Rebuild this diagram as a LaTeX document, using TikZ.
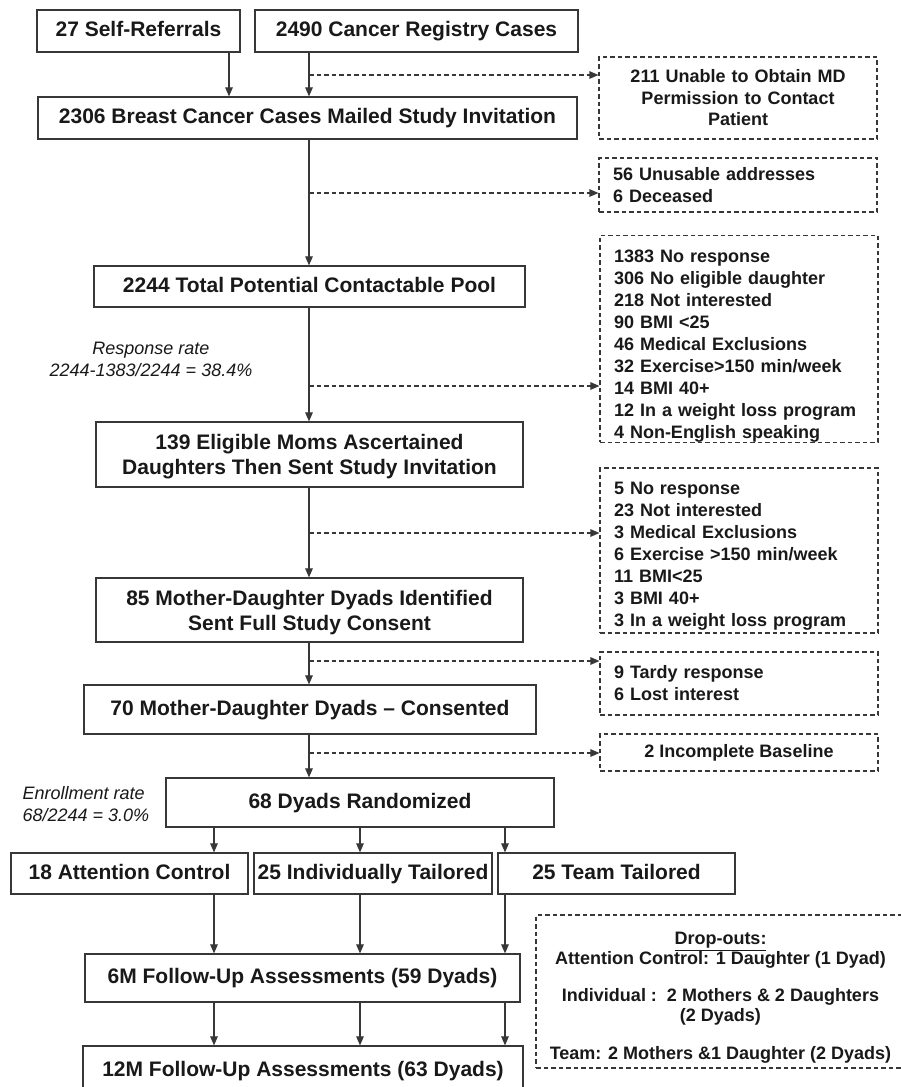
\documentclass[tikz,border=0pt]{standalone}
\usepackage{fontspec}
\setmainfont{Liberation Sans}
\usepackage{tikz}
\usetikzlibrary{positioning,calc,arrows.meta}
\definecolor{BoxGray}{RGB}{55,55,55}
\definecolor{InkBlack}{RGB}{25,25,25}
\tikzset{
    mainbox/.style={rectangle, draw=BoxGray, line width=1.2pt, fill=white, text=InkBlack, font=\bfseries\fontsize{21}{25}\selectfont, align=center, inner sep=2pt},
    oneline/.style={text height=15pt, text depth=4pt},
    listbox/.style={rectangle, draw=BoxGray, line width=1.1pt, dash pattern=on 4.5pt off 3pt, text=InkBlack, font=\bfseries\fontsize{18}{22}\selectfont, inner sep=0pt},
    arr/.style={draw=BoxGray, line width=1.1pt, -{Triangle[length=9pt,width=7.5pt]}},
    darr/.style={arr, dash pattern=on 4.5pt off 3pt},
    ratenote/.style={text=InkBlack, font=\itshape\fontsize{18}{22}\selectfont}
}

\begin{document}
\begin{tikzpicture}[x=1pt, y=-1pt]
    \useasboundingbox (0,0) rectangle (901,1087);
    \fill[white] (0,0) rectangle (901,1087);
    \clip (0,0) rectangle (901,1087);

    % 1. CÁC HỘP CHÍNH
    \node[mainbox, oneline, minimum width=203pt, minimum height=42pt] (selfref) at (138.5,31) {27 Self-Referrals};
    \node[mainbox, oneline, minimum width=323pt, minimum height=42pt] (registry) at (416.5,31) {2490 Cancer Registry Cases};
    \node[mainbox, oneline, minimum width=539pt, minimum height=42pt] (mailed) at (307.5,118) {2306 Breast Cancer Cases Mailed Study Invitation};
    \node[mainbox, oneline, minimum width=431pt, minimum height=41pt] (pool) at (309.5,286.5) {2244 Total Potential Contactable Pool};
    \node[mainbox, minimum width=427pt, minimum height=65pt] (eligible) at (309.5,454.5) {\rule{0pt}{19pt}139 Eligible Moms Ascertained\\Daughters Then Sent Study Invitation};
    \node[mainbox, minimum width=427pt, minimum height=64pt] (identified) at (309.5,610) {\rule{0pt}{21pt}85 Mother-Daughter Dyads Identified\\Sent Full Study Consent};
    \node[mainbox, oneline, minimum width=452pt, minimum height=49pt] (consented) at (310,709.5) {70 Mother-Daughter Dyads -- Consented};
    \node[mainbox, oneline, minimum width=388pt, minimum height=49pt] (randomized) at (360,802.5) {68 Dyads Randomized};
    \node[mainbox, oneline, minimum width=237pt, minimum height=41pt] (attn) at (129.5,873.5) {18 Attention Control};
    \node[mainbox, oneline, minimum width=238pt, minimum height=41pt] (indiv) at (373,873.5) {25 Individually Tailored};
    \node[mainbox, oneline, minimum width=237pt, minimum height=41pt] (team) at (616.5,873.5) {25 Team Tailored};
    \node[mainbox, oneline, minimum width=435pt, minimum height=48pt] (sixm) at (302.5,978) {6M Follow-Up Assessments (59 Dyads)};
    \node[mainbox, oneline, minimum width=440pt, minimum height=50pt] (twelvem) at (303,1071) {12M Follow-Up Assessments (63 Dyads)};

    % 2. CÁC HỘP LOẠI TRỪ (NÉT ĐỨT)
    \node[listbox, minimum width=278pt, minimum height=82pt, text width=262pt, align=center, font=\bfseries\fontsize{18}{21.5}\selectfont] (unable) at (738,98) {211 Unable to Obtain MD\\Permission to Contact\\Patient};
    \node[listbox, minimum width=278pt, minimum height=54pt, text width=250pt, align=left] (unusable) at (738,185) {56 Unusable addresses\\6 Deceased};
    \node[listbox, minimum width=278pt, minimum height=204pt, text width=250pt, align=left] (noresp) at (739,339) {\rule{0pt}{27pt}1383 No response\\306 No eligible daughter\\218 Not interested\\90 BMI {<}25\\46 Medical Exclusions\\32 Exercise{>}150 min/week\\14 BMI 40+\\12 In a weight loss program\\4 Non-English speaking};
    \node[listbox, minimum width=278pt, minimum height=165pt, text width=250pt, align=left] (fivelist) at (739,550.5) {\rule{0pt}{23pt}5 No response\\23 Not interested\\3 Medical Exclusions\\6 Exercise {>}150 min/week\\11 BMI{<}25\\3 BMI 40+\\3 In a weight loss program};
    \node[listbox, minimum width=278pt, minimum height=63pt, text width=250pt, align=left] (tardy) at (739,683.5) {9 Tardy response\\6 Lost interest};
    \node[listbox, oneline, minimum width=278pt, minimum height=37pt, align=center, text height=13pt, text depth=3pt] (baseline) at (739,752.5) {2 Incomplete Baseline};
    \node[listbox, minimum width=369pt, minimum height=153pt, align=center, font=\bfseries\fontsize{18}{20}\selectfont] (dropouts) at (720.5,991.5) {\rule{0pt}{25pt}\underline{Drop-outs:}\\Attention Control: 1 Daughter (1 Dyad)\\[17pt]Individual :\ \ 2 Mothers \& 2 Daughters\\(2 Dyads)\\[18pt]Team: 2 Mothers \&1 Daughter (2 Dyads)};

    % Ghi chú tỉ lệ
    \node[ratenote, align=center] (resprate) at (151,359) {Response rate\\2244-1383/2244 = 38.4\%};
    \node[ratenote, align=left, anchor=west] (enrollrate) at (19,804) {Enrollment rate\\68/2244 = 3.0\%};

    % 3. MŨI TÊN
    \coordinate (colA) at (229,0);
    \coordinate (trunk) at (309,0);
    \coordinate (colL) at (214,0);
    \coordinate (colM) at (360,0);
    \coordinate (colR) at (505,0);

    \draw[arr] (selfref.south -| colA) -- (mailed.north -| colA);
    \draw[arr] (registry.south -| trunk) -- (mailed.north -| trunk);
    \draw[arr] (mailed.south -| trunk) -- (pool.north -| trunk);
    \draw[arr] (pool.south -| trunk) -- (eligible.north -| trunk);
    \draw[arr] (eligible.south -| trunk) -- (identified.north -| trunk);
    \draw[arr] (identified.south -| trunk) -- (consented.north -| trunk);
    \draw[arr] (consented.south -| trunk) -- (randomized.north -| trunk);

    \draw[arr] (randomized.south -| colL) -- (attn.north -| colL);
    \draw[arr] (randomized.south -| colM) -- (indiv.north -| colM);
    \draw[arr] (randomized.south -| colR) -- (team.north -| colR);
    \draw[arr] (attn.south -| colL) -- (sixm.north -| colL);
    \draw[arr] (indiv.south -| colM) -- (sixm.north -| colM);
    \draw[arr] (team.south -| colR) -- (sixm.north -| colR);
    \foreach \col in {colL,colM,colR}
        \draw[arr] (sixm.south -| \col) -- (twelvem.north -| \col);

    % Mũi tên nét đứt sang hộp loại trừ
    \coordinate (d1) at (309,75);
    \coordinate (d2) at (309,193);
    \coordinate (d3) at (309,386);
    \coordinate (d4) at (309,533);
    \coordinate (d5) at (309,661);
    \coordinate (d6) at (309,753);
    \draw[darr] (d1) -- (d1 -| unable.west);
    \draw[darr] (d2) -- (d2 -| unusable.west);
    \draw[darr] (d3) -- (d3 -| noresp.west);
    \draw[darr] (d4) -- (d4 -| fivelist.west);
    \draw[darr] (d5) -- (d5 -| tardy.west);
    \draw[darr] (d6) -- (d6 -| baseline.west);
\end{tikzpicture}
\end{document}
